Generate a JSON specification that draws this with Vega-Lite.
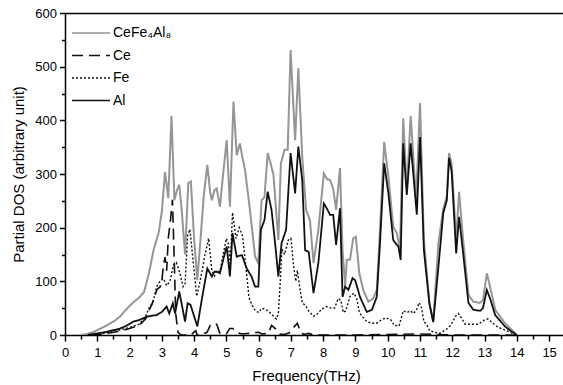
{
  "$schema": "https://vega.github.io/schema/vega-lite/v6.json",
  "width": 498,
  "height": 322,
  "autosize": {"type": "none"},
  "padding": {"left": 65, "top": 13, "right": 0, "bottom": 50},
  "background": "white",
  "datasets": {
    "dos": [
      {"s":"CeFe₄Al₈","f":0.5,"v":0},{"s":"CeFe₄Al₈","f":0.7,"v":2},{"s":"CeFe₄Al₈","f":0.9,"v":6},{"s":"CeFe₄Al₈","f":1.1,"v":12},{"s":"CeFe₄Al₈","f":1.3,"v":18},{"s":"CeFe₄Al₈","f":1.5,"v":25},{"s":"CeFe₄Al₈","f":1.7,"v":34},{"s":"CeFe₄Al₈","f":1.9,"v":48},{"s":"CeFe₄Al₈","f":2.1,"v":60},{"s":"CeFe₄Al₈","f":2.3,"v":70},{"s":"CeFe₄Al₈","f":2.45,"v":80},{"s":"CeFe₄Al₈","f":2.6,"v":115},{"s":"CeFe₄Al₈","f":2.75,"v":160},{"s":"CeFe₄Al₈","f":2.9,"v":190},{"s":"CeFe₄Al₈","f":3.0,"v":230},{"s":"CeFe₄Al₈","f":3.1,"v":304},{"s":"CeFe₄Al₈","f":3.2,"v":255},{"s":"CeFe₄Al₈","f":3.3,"v":408},{"s":"CeFe₄Al₈","f":3.39,"v":251},{"s":"CeFe₄Al₈","f":3.47,"v":270},{"s":"CeFe₄Al₈","f":3.54,"v":280},{"s":"CeFe₄Al₈","f":3.62,"v":230},{"s":"CeFe₄Al₈","f":3.72,"v":150},{"s":"CeFe₄Al₈","f":3.82,"v":283},{"s":"CeFe₄Al₈","f":3.9,"v":286},{"s":"CeFe₄Al₈","f":4.0,"v":180},{"s":"CeFe₄Al₈","f":4.1,"v":102},{"s":"CeFe₄Al₈","f":4.2,"v":180},{"s":"CeFe₄Al₈","f":4.3,"v":260},{"s":"CeFe₄Al₈","f":4.41,"v":317},{"s":"CeFe₄Al₈","f":4.5,"v":265},{"s":"CeFe₄Al₈","f":4.55,"v":251},{"s":"CeFe₄Al₈","f":4.63,"v":270},{"s":"CeFe₄Al₈","f":4.7,"v":273},{"s":"CeFe₄Al₈","f":4.8,"v":239},{"s":"CeFe₄Al₈","f":4.9,"v":300},{"s":"CeFe₄Al₈","f":5.01,"v":363},{"s":"CeFe₄Al₈","f":5.11,"v":239},{"s":"CeFe₄Al₈","f":5.22,"v":435},{"s":"CeFe₄Al₈","f":5.32,"v":335},{"s":"CeFe₄Al₈","f":5.42,"v":357},{"s":"CeFe₄Al₈","f":5.5,"v":330},{"s":"CeFe₄Al₈","f":5.58,"v":307},{"s":"CeFe₄Al₈","f":5.73,"v":233},{"s":"CeFe₄Al₈","f":5.89,"v":146},{"s":"CeFe₄Al₈","f":5.99,"v":134},{"s":"CeFe₄Al₈","f":6.09,"v":251},{"s":"CeFe₄Al₈","f":6.18,"v":257},{"s":"CeFe₄Al₈","f":6.28,"v":339},{"s":"CeFe₄Al₈","f":6.37,"v":320},{"s":"CeFe₄Al₈","f":6.46,"v":298},{"s":"CeFe₄Al₈","f":6.61,"v":177},{"s":"CeFe₄Al₈","f":6.69,"v":320},{"s":"CeFe₄Al₈","f":6.8,"v":345},{"s":"CeFe₄Al₈","f":6.9,"v":345},{"s":"CeFe₄Al₈","f":6.99,"v":531},{"s":"CeFe₄Al₈","f":7.13,"v":363},{"s":"CeFe₄Al₈","f":7.23,"v":497},{"s":"CeFe₄Al₈","f":7.35,"v":332},{"s":"CeFe₄Al₈","f":7.47,"v":233},{"s":"CeFe₄Al₈","f":7.59,"v":214},{"s":"CeFe₄Al₈","f":7.7,"v":134},{"s":"CeFe₄Al₈","f":7.85,"v":196},{"s":"CeFe₄Al₈","f":8.02,"v":301},{"s":"CeFe₄Al₈","f":8.12,"v":290},{"s":"CeFe₄Al₈","f":8.21,"v":289},{"s":"CeFe₄Al₈","f":8.31,"v":273},{"s":"CeFe₄Al₈","f":8.4,"v":233},{"s":"CeFe₄Al₈","f":8.52,"v":311},{"s":"CeFe₄Al₈","f":8.6,"v":158},{"s":"CeFe₄Al₈","f":8.68,"v":90},{"s":"CeFe₄Al₈","f":8.73,"v":140},{"s":"CeFe₄Al₈","f":8.83,"v":140},{"s":"CeFe₄Al₈","f":8.93,"v":180},{"s":"CeFe₄Al₈","f":9.01,"v":183},{"s":"CeFe₄Al₈","f":9.12,"v":115},{"s":"CeFe₄Al₈","f":9.24,"v":84},{"s":"CeFe₄Al₈","f":9.4,"v":62},{"s":"CeFe₄Al₈","f":9.55,"v":68},{"s":"CeFe₄Al₈","f":9.66,"v":84},{"s":"CeFe₄Al₈","f":9.76,"v":196},{"s":"CeFe₄Al₈","f":9.89,"v":360},{"s":"CeFe₄Al₈","f":10.02,"v":295},{"s":"CeFe₄Al₈","f":10.17,"v":202},{"s":"CeFe₄Al₈","f":10.28,"v":190},{"s":"CeFe₄Al₈","f":10.38,"v":158},{"s":"CeFe₄Al₈","f":10.48,"v":404},{"s":"CeFe₄Al₈","f":10.59,"v":270},{"s":"CeFe₄Al₈","f":10.71,"v":408},{"s":"CeFe₄Al₈","f":10.88,"v":251},{"s":"CeFe₄Al₈","f":11.0,"v":432},{"s":"CeFe₄Al₈","f":11.12,"v":177},{"s":"CeFe₄Al₈","f":11.29,"v":59},{"s":"CeFe₄Al₈","f":11.41,"v":25},{"s":"CeFe₄Al₈","f":11.57,"v":171},{"s":"CeFe₄Al₈","f":11.72,"v":235},{"s":"CeFe₄Al₈","f":11.83,"v":258},{"s":"CeFe₄Al₈","f":11.9,"v":339},{"s":"CeFe₄Al₈","f":11.98,"v":318},{"s":"CeFe₄Al₈","f":12.12,"v":177},{"s":"CeFe₄Al₈","f":12.21,"v":267},{"s":"CeFe₄Al₈","f":12.34,"v":175},{"s":"CeFe₄Al₈","f":12.5,"v":75},{"s":"CeFe₄Al₈","f":12.65,"v":62},{"s":"CeFe₄Al₈","f":12.86,"v":60},{"s":"CeFe₄Al₈","f":12.95,"v":65},{"s":"CeFe₄Al₈","f":13.07,"v":115},{"s":"CeFe₄Al₈","f":13.17,"v":90},{"s":"CeFe₄Al₈","f":13.33,"v":47},{"s":"CeFe₄Al₈","f":13.63,"v":22},{"s":"CeFe₄Al₈","f":13.8,"v":12},{"s":"CeFe₄Al₈","f":13.95,"v":3},{"s":"CeFe₄Al₈","f":14.0,"v":0},

      {"s":"Ce","f":0.8,"v":0},{"s":"Ce","f":1.2,"v":2},{"s":"Ce","f":1.6,"v":6},{"s":"Ce","f":2.0,"v":12},{"s":"Ce","f":2.3,"v":18},{"s":"Ce","f":2.5,"v":30},{"s":"Ce","f":2.6,"v":45},{"s":"Ce","f":2.7,"v":58},{"s":"Ce","f":2.85,"v":85},{"s":"Ce","f":2.95,"v":90},{"s":"Ce","f":3.0,"v":100},{"s":"Ce","f":3.05,"v":130},{"s":"Ce","f":3.1,"v":145},{"s":"Ce","f":3.15,"v":120},{"s":"Ce","f":3.2,"v":180},{"s":"Ce","f":3.27,"v":215},{"s":"Ce","f":3.33,"v":252},{"s":"Ce","f":3.38,"v":150},{"s":"Ce","f":3.43,"v":40},{"s":"Ce","f":3.5,"v":5},{"s":"Ce","f":3.6,"v":0},{"s":"Ce","f":3.9,"v":0},{"s":"Ce","f":4.05,"v":8},{"s":"Ce","f":4.1,"v":0},{"s":"Ce","f":4.2,"v":0},{"s":"Ce","f":4.4,"v":5},{"s":"Ce","f":4.5,"v":18},{"s":"Ce","f":4.6,"v":22},{"s":"Ce","f":4.7,"v":20},{"s":"Ce","f":4.8,"v":3},{"s":"Ce","f":5.0,"v":2},{"s":"Ce","f":5.1,"v":12},{"s":"Ce","f":5.2,"v":12},{"s":"Ce","f":5.3,"v":5},{"s":"Ce","f":5.5,"v":2},{"s":"Ce","f":5.8,"v":4},{"s":"Ce","f":6.0,"v":5},{"s":"Ce","f":6.1,"v":2},{"s":"Ce","f":6.3,"v":3},{"s":"Ce","f":6.4,"v":18},{"s":"Ce","f":6.55,"v":10},{"s":"Ce","f":6.65,"v":2},{"s":"Ce","f":6.8,"v":1},{"s":"Ce","f":6.95,"v":4},{"s":"Ce","f":7.05,"v":12},{"s":"Ce","f":7.2,"v":22},{"s":"Ce","f":7.3,"v":5},{"s":"Ce","f":7.4,"v":1},{"s":"Ce","f":7.55,"v":3},{"s":"Ce","f":7.7,"v":0},{"s":"Ce","f":9.0,"v":0},{"s":"Ce","f":11.0,"v":2},{"s":"Ce","f":12.0,"v":0},{"s":"Ce","f":14.0,"v":0},

      {"s":"Fe","f":0.8,"v":0},{"s":"Fe","f":1.2,"v":3},{"s":"Fe","f":1.6,"v":8},{"s":"Fe","f":2.0,"v":14},{"s":"Fe","f":2.3,"v":20},{"s":"Fe","f":2.5,"v":35},{"s":"Fe","f":2.6,"v":50},{"s":"Fe","f":2.73,"v":62},{"s":"Fe","f":2.84,"v":90},{"s":"Fe","f":2.94,"v":100},{"s":"Fe","f":3.05,"v":105},{"s":"Fe","f":3.15,"v":92},{"s":"Fe","f":3.25,"v":100},{"s":"Fe","f":3.36,"v":130},{"s":"Fe","f":3.45,"v":135},{"s":"Fe","f":3.56,"v":115},{"s":"Fe","f":3.66,"v":90},{"s":"Fe","f":3.72,"v":95},{"s":"Fe","f":3.8,"v":185},{"s":"Fe","f":3.87,"v":197},{"s":"Fe","f":3.95,"v":150},{"s":"Fe","f":4.08,"v":72},{"s":"Fe","f":4.13,"v":85},{"s":"Fe","f":4.25,"v":120},{"s":"Fe","f":4.34,"v":150},{"s":"Fe","f":4.45,"v":180},{"s":"Fe","f":4.55,"v":120},{"s":"Fe","f":4.63,"v":110},{"s":"Fe","f":4.7,"v":120},{"s":"Fe","f":4.8,"v":118},{"s":"Fe","f":4.9,"v":150},{"s":"Fe","f":5.0,"v":180},{"s":"Fe","f":5.06,"v":170},{"s":"Fe","f":5.12,"v":130},{"s":"Fe","f":5.19,"v":228},{"s":"Fe","f":5.3,"v":180},{"s":"Fe","f":5.4,"v":200},{"s":"Fe","f":5.5,"v":185},{"s":"Fe","f":5.6,"v":130},{"s":"Fe","f":5.7,"v":70},{"s":"Fe","f":5.8,"v":55},{"s":"Fe","f":5.9,"v":45},{"s":"Fe","f":6.0,"v":42},{"s":"Fe","f":6.1,"v":50},{"s":"Fe","f":6.2,"v":48},{"s":"Fe","f":6.3,"v":45},{"s":"Fe","f":6.46,"v":35},{"s":"Fe","f":6.55,"v":30},{"s":"Fe","f":6.61,"v":40},{"s":"Fe","f":6.67,"v":100},{"s":"Fe","f":6.72,"v":160},{"s":"Fe","f":6.8,"v":150},{"s":"Fe","f":6.92,"v":177},{"s":"Fe","f":7.0,"v":180},{"s":"Fe","f":7.08,"v":130},{"s":"Fe","f":7.15,"v":100},{"s":"Fe","f":7.2,"v":120},{"s":"Fe","f":7.27,"v":90},{"s":"Fe","f":7.35,"v":60},{"s":"Fe","f":7.45,"v":55},{"s":"Fe","f":7.55,"v":45},{"s":"Fe","f":7.7,"v":35},{"s":"Fe","f":7.8,"v":38},{"s":"Fe","f":7.95,"v":48},{"s":"Fe","f":8.1,"v":53},{"s":"Fe","f":8.25,"v":50},{"s":"Fe","f":8.35,"v":50},{"s":"Fe","f":8.47,"v":68},{"s":"Fe","f":8.55,"v":65},{"s":"Fe","f":8.62,"v":42},{"s":"Fe","f":8.7,"v":45},{"s":"Fe","f":8.83,"v":72},{"s":"Fe","f":8.95,"v":78},{"s":"Fe","f":9.04,"v":68},{"s":"Fe","f":9.12,"v":42},{"s":"Fe","f":9.2,"v":35},{"s":"Fe","f":9.35,"v":25},{"s":"Fe","f":9.5,"v":22},{"s":"Fe","f":9.66,"v":22},{"s":"Fe","f":9.8,"v":28},{"s":"Fe","f":9.95,"v":32},{"s":"Fe","f":10.1,"v":28},{"s":"Fe","f":10.2,"v":18},{"s":"Fe","f":10.35,"v":17},{"s":"Fe","f":10.48,"v":45},{"s":"Fe","f":10.6,"v":42},{"s":"Fe","f":10.7,"v":45},{"s":"Fe","f":10.8,"v":40},{"s":"Fe","f":10.9,"v":48},{"s":"Fe","f":10.97,"v":60},{"s":"Fe","f":11.03,"v":55},{"s":"Fe","f":11.12,"v":25},{"s":"Fe","f":11.2,"v":20},{"s":"Fe","f":11.3,"v":8},{"s":"Fe","f":11.45,"v":5},{"s":"Fe","f":11.6,"v":3},{"s":"Fe","f":11.8,"v":10},{"s":"Fe","f":11.95,"v":18},{"s":"Fe","f":12.1,"v":35},{"s":"Fe","f":12.19,"v":40},{"s":"Fe","f":12.3,"v":30},{"s":"Fe","f":12.4,"v":20},{"s":"Fe","f":12.6,"v":20},{"s":"Fe","f":12.8,"v":20},{"s":"Fe","f":13.0,"v":28},{"s":"Fe","f":13.1,"v":30},{"s":"Fe","f":13.2,"v":25},{"s":"Fe","f":13.4,"v":15},{"s":"Fe","f":13.6,"v":10},{"s":"Fe","f":13.8,"v":5},{"s":"Fe","f":14.0,"v":0},

      {"s":"Al","f":0.7,"v":0},{"s":"Al","f":0.9,"v":2},{"s":"Al","f":1.1,"v":4},{"s":"Al","f":1.3,"v":6},{"s":"Al","f":1.5,"v":9},{"s":"Al","f":1.7,"v":12},{"s":"Al","f":1.9,"v":17},{"s":"Al","f":2.12,"v":25},{"s":"Al","f":2.3,"v":28},{"s":"Al","f":2.53,"v":34},{"s":"Al","f":2.7,"v":36},{"s":"Al","f":2.84,"v":37},{"s":"Al","f":3.0,"v":43},{"s":"Al","f":3.08,"v":48},{"s":"Al","f":3.15,"v":53},{"s":"Al","f":3.23,"v":40},{"s":"Al","f":3.34,"v":59},{"s":"Al","f":3.41,"v":40},{"s":"Al","f":3.54,"v":81},{"s":"Al","f":3.65,"v":47},{"s":"Al","f":3.72,"v":25},{"s":"Al","f":3.8,"v":59},{"s":"Al","f":3.89,"v":56},{"s":"Al","f":4.0,"v":35},{"s":"Al","f":4.1,"v":16},{"s":"Al","f":4.25,"v":70},{"s":"Al","f":4.41,"v":124},{"s":"Al","f":4.55,"v":109},{"s":"Al","f":4.63,"v":118},{"s":"Al","f":4.7,"v":118},{"s":"Al","f":4.8,"v":115},{"s":"Al","f":4.9,"v":140},{"s":"Al","f":5.01,"v":165},{"s":"Al","f":5.11,"v":109},{"s":"Al","f":5.19,"v":190},{"s":"Al","f":5.32,"v":146},{"s":"Al","f":5.48,"v":149},{"s":"Al","f":5.63,"v":124},{"s":"Al","f":5.78,"v":109},{"s":"Al","f":5.89,"v":90},{"s":"Al","f":5.99,"v":90},{"s":"Al","f":6.07,"v":196},{"s":"Al","f":6.18,"v":214},{"s":"Al","f":6.28,"v":267},{"s":"Al","f":6.4,"v":233},{"s":"Al","f":6.51,"v":171},{"s":"Al","f":6.61,"v":109},{"s":"Al","f":6.71,"v":171},{"s":"Al","f":6.85,"v":196},{"s":"Al","f":6.99,"v":339},{"s":"Al","f":7.13,"v":264},{"s":"Al","f":7.23,"v":351},{"s":"Al","f":7.35,"v":289},{"s":"Al","f":7.44,"v":158},{"s":"Al","f":7.55,"v":155},{"s":"Al","f":7.7,"v":78},{"s":"Al","f":7.85,"v":134},{"s":"Al","f":8.02,"v":245},{"s":"Al","f":8.12,"v":235},{"s":"Al","f":8.21,"v":224},{"s":"Al","f":8.31,"v":224},{"s":"Al","f":8.4,"v":168},{"s":"Al","f":8.52,"v":236},{"s":"Al","f":8.6,"v":71},{"s":"Al","f":8.68,"v":90},{"s":"Al","f":8.78,"v":84},{"s":"Al","f":8.91,"v":106},{"s":"Al","f":8.99,"v":102},{"s":"Al","f":9.14,"v":71},{"s":"Al","f":9.35,"v":43},{"s":"Al","f":9.51,"v":47},{"s":"Al","f":9.66,"v":71},{"s":"Al","f":9.76,"v":171},{"s":"Al","f":9.89,"v":320},{"s":"Al","f":10.02,"v":264},{"s":"Al","f":10.17,"v":177},{"s":"Al","f":10.28,"v":168},{"s":"Al","f":10.33,"v":165},{"s":"Al","f":10.4,"v":140},{"s":"Al","f":10.48,"v":357},{"s":"Al","f":10.59,"v":261},{"s":"Al","f":10.71,"v":357},{"s":"Al","f":10.9,"v":224},{"s":"Al","f":11.0,"v":369},{"s":"Al","f":11.12,"v":158},{"s":"Al","f":11.29,"v":59},{"s":"Al","f":11.41,"v":24},{"s":"Al","f":11.57,"v":127},{"s":"Al","f":11.72,"v":227},{"s":"Al","f":11.83,"v":251},{"s":"Al","f":11.9,"v":330},{"s":"Al","f":11.98,"v":305},{"s":"Al","f":12.12,"v":152},{"s":"Al","f":12.21,"v":220},{"s":"Al","f":12.34,"v":150},{"s":"Al","f":12.5,"v":60},{"s":"Al","f":12.65,"v":47},{"s":"Al","f":12.86,"v":45},{"s":"Al","f":12.95,"v":50},{"s":"Al","f":13.07,"v":84},{"s":"Al","f":13.17,"v":68},{"s":"Al","f":13.33,"v":37},{"s":"Al","f":13.63,"v":16},{"s":"Al","f":13.8,"v":8},{"s":"Al","f":13.95,"v":2},{"s":"Al","f":14.0,"v":0}
    ]
  },
  "data": {"name": "dos"},
  "encoding": {
    "color": {
      "field": "s", "type": "nominal",
      "scale": {"domain": ["CeFe₄Al₈", "Ce", "Fe", "Al"], "range": ["#959595", "#111111", "#111111", "#111111"]},
      "legend": {
        "orient": "none", "legendX": 15.5, "legendY": 9.5, "title": null,
        "symbolType": "M-2,0H2", "symbolSize": 361, "symbolStrokeWidth": 1.6,
        "labelFontSize": 14, "labelOffset": 11.5, "rowPadding": 4.5, "padding": 0,
        "labelColor": "#000"
      }
    },
    "strokeDash": {
      "field": "s", "type": "nominal",
      "scale": {"domain": ["CeFe₄Al₈", "Ce", "Fe", "Al"], "range": [[1, 0], [11, 6], [2, 2], [1, 0]]}
    }
  },
  "layer": [
    {
      "transform": [{"filter": "datum.s === 'CeFe₄Al₈'"}],
      "mark": {"type": "line", "strokeWidth": 2, "clip": true},
      "encoding": {
        "x": {"field": "f", "type": "quantitative", "scale": {"domain": [0, 15.43], "nice": false},
          "axis": {"orient": "top", "labels": false, "ticks": false, "title": null, "domain": true}},
        "y": {"field": "v", "type": "quantitative", "scale": {"domain": [0, 600], "nice": false},
          "axis": {
            "orient": "left",
            "title": "Partial DOS (arbitrary unit)",
            "values": [0,100,200,300,400,500,600],
            "format": "d",
            "ticks": true,
            "tickSize": 5.5,
            "tickWidth": 1.5,
            "tickColor": "black",
            "labelOverlap": false,
            "labelFlush": false,
            "labelPadding": 3,
            "titlePadding": 8
          }}
      }
    },
    {
      "transform": [{"filter": "datum.s === 'Ce'"}],
      "mark": {"type": "line", "strokeWidth": 1.6, "clip": true},
      "encoding": {
        "x": {"field": "f", "type": "quantitative", "scale": {"domain": [0, 15.43], "nice": false},
          "axis": {
            "orient": "bottom",
            "title": "Frequency(THz)",
            "values": [0,1,2,3,4,5,6,7,8,9,10,11,12,13,14,15],
            "format": "d",
            "ticks": true,
            "tickSize": 6,
            "tickWidth": 1.5,
            "tickColor": "black",
            "labelOverlap": false,
            "labelFlush": false,
            "labelPadding": 5,
            "titlePadding": 9,
            "titleX": 241,
            "titleAlign": "center"
          }},
        "y": {"field": "v", "type": "quantitative", "scale": {"domain": [0, 600], "nice": false}, "axis": null}
      }
    },
    {
      "transform": [{"filter": "datum.s === 'Fe'"}],
      "mark": {"type": "line", "strokeWidth": 1.4, "clip": true},
      "encoding": {
        "x": {"field": "f", "type": "quantitative", "scale": {"domain": [0, 15.43], "nice": false},
          "axis": {
            "orient": "bottom", "title": null, "labels": false, "domain": false,
            "values": [0.5,1.5,2.5,3.5,4.5,5.5,6.5,7.5,8.5,9.5,10.5,11.5,12.5,13.5,14.5],
            "ticks": true, "tickSize": 4, "tickWidth": 1.5, "tickColor": "black"
          }},
        "y": {"field": "v", "type": "quantitative", "scale": {"domain": [0, 600], "nice": false},
          "axis": {
            "orient": "left", "title": null, "labels": false, "domain": false,
            "values": [50,150,250,350,450,550],
            "ticks": true, "tickSize": 3.5, "tickWidth": 1.5, "tickColor": "black"
          }}
      }
    },
    {
      "transform": [{"filter": "datum.s === 'Al'"}],
      "mark": {"type": "line", "strokeWidth": 1.8, "clip": true},
      "encoding": {
        "x": {"field": "f", "type": "quantitative", "scale": {"domain": [0, 15.43], "nice": false}, "axis": null},
        "y": {"field": "v", "type": "quantitative", "scale": {"domain": [0, 600], "nice": false}, "axis": null}
      }
    }
  ],
  "resolve": {"axis": {"x": "independent", "y": "independent"}, "scale": {"x": "shared", "y": "shared"}},
  "config": {
    "font": "Liberation Sans",
    "view": {"stroke": null},
    "axis": {
      "grid": false,
      "domainColor": "#000", "domainWidth": 1.5,
      "labelColor": "#000", "titleColor": "#000",
      "labelFontSize": 13, "titleFontSize": 15, "titleFontWeight": "normal",
      "labelFont": "Liberation Sans", "titleFont": "Liberation Sans"
    },
    "legend": {"labelFont": "Liberation Sans"}
  }
}
